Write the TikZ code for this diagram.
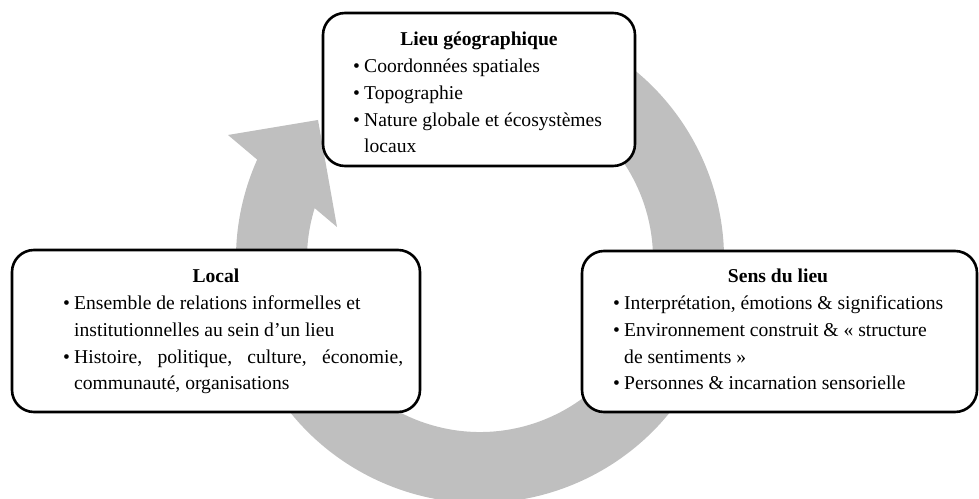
\documentclass[tikz,border=0pt]{standalone}
\usepackage{fontspec}
\setmainfont{Liberation Serif}
\definecolor{ringgray}{RGB}{191,191,191}
\newlength{\bulind}\setlength{\bulind}{11pt}
% bullet line and continuation line (natural spacing, no justification)
\newcommand{\bl}[1]{\hbox{\strut\makebox[\bulind][l]{\textbullet}#1}}
\newcommand{\blto}[2]{\hbox{\strut\makebox[\bulind][l]{\textbullet}\hbox to #1{#2}}}
\newcommand{\cl}[1]{\hbox{\strut\hspace*{\bulind}#1}}
\tikzset{
  panel/.style={draw=black, line width=2.6pt, fill=white, rounded corners=22pt, inner sep=0pt},
  ptitle/.style={anchor=base, font=\fontsize{19.6}{26.7}\selectfont\bfseries, inner sep=0pt},
  plist/.style={anchor=north west, font=\fontsize{19.6}{26.7}\selectfont, inner sep=0pt},
  ring/.style={fill=ringgray}
}
\begin{document}
\begin{tikzpicture}[x=1pt,y=1pt]
\useasboundingbox (0,0) rectangle (979,498);
% circular arrow
\begin{scope}[shift={(480,239)}]
\fill[ring] (65:244) arc[start angle=65, end angle=-204.04, radius=244]
  -- (-252,124) -- (-162,139) -- (-143,32) -- (-197.1:173)
  arc[start angle=-197.1, end angle=65, radius=173] -- cycle;
\end{scope}
% panels
\node[panel, minimum width=312pt, minimum height=153pt] (geo) at (479,408.5) {};
\node[panel, minimum width=408pt, minimum height=162pt] (loc) at (216,167) {};
\node[panel, minimum width=395pt, minimum height=161pt] (sens) at (779.5,166.5) {};
% titles
\node[ptitle] (geoT) at (479,452) {Lieu géographique};
\node[ptitle] (locT) at (216,215) {Local};
\node[ptitle] (sensT) at (778,215) {Sens du lieu};
% lists
\node[plist] (geoL) at (353,444) {\vtop{%
\bl{Coordonnées spatiales}
\bl{Topographie}
\bl{Nature globale et écosystèmes}
\cl{locaux}}};
\node[plist] (locL) at (63,207.2) {\vtop{%
\bl{Ensemble de relations informelles et}
\cl{institutionnelles au sein d’un lieu}
\blto{329pt}{Histoire,\hfil\ politique,\hfil\ culture,\hfil\ économie,}
\cl{communauté, organisations}}};
\node[plist] (sensL) at (613,207.2) {\vtop{%
\bl{Interprétation, émotions \& significations}
\bl{Environnement construit \& « structure}
\cl{de sentiments »}
\bl{Personnes \& incarnation sensorielle}}};
\end{tikzpicture}
\end{document}
